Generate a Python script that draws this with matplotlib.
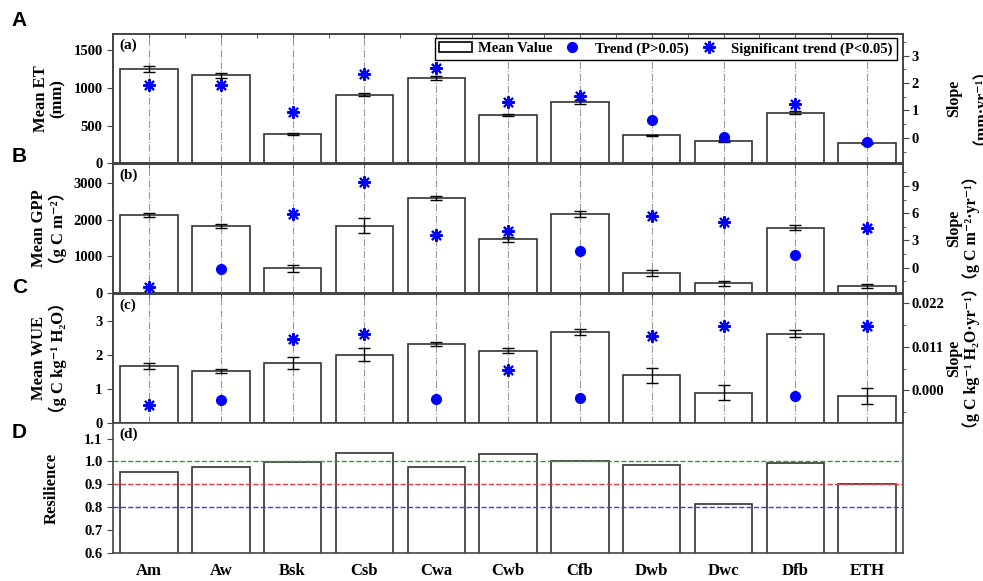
import matplotlib
matplotlib.use('Agg')
import matplotlib.pyplot as plt
from matplotlib.lines import Line2D
from matplotlib.patches import Patch
import numpy as np

plt.rcParams['font.family'] = ['Liberation Serif', 'Noto Sans CJK SC', 'DejaVu Serif']
plt.rcParams['font.weight'] = 'bold'

# 气候类型
cats = ['Am', 'Aw', 'Bsk', 'Csb', 'Cwa', 'Cwb', 'Cfb', 'Dwb', 'Dwc', 'Dfb', 'ETH']

# (a) ET
et_mean = [1250, 1165, 386, 912, 1130, 642, 815, 372, 296, 673, 266]
et_err = [40, 38, 12, 25, 30, 15, 25, 10, 10, 25, 8]
et_slope = [1.94, 1.94, 0.95, 2.31, 2.53, 1.31, 1.53, 0.65, 0.04, 1.22, -0.16]
et_sig = [1, 1, 1, 1, 1, 1, 1, 0, 0, 1, 0]

# (b) GPP
gpp_mean = [2116, 1827, 676, 1838, 2594, 1468, 2152, 540, 270, 1784, 206]
gpp_err = [55, 45, 90, 210, 55, 70, 70, 80, 60, 80, 50]
gpp_slope = [-2.09, -0.18, 5.86, 9.44, 3.59, 4.03, 1.83, 5.67, 5.05, 1.39, 4.39]
gpp_sig = [1, 0, 1, 1, 1, 1, 0, 1, 1, 0, 1]

# (c) WUE
wue_mean = [1.67, 1.54, 1.77, 2.01, 2.31, 2.12, 2.67, 1.40, 0.89, 2.62, 0.80]
wue_err = [0.09, 0.06, 0.18, 0.19, 0.06, 0.08, 0.09, 0.21, 0.22, 0.11, 0.23]
wue_slope = [-0.0036, -0.0023, 0.0131, 0.0142, -0.0022, 0.0051, -0.0018, 0.0139, 0.0164, -0.0014, 0.0164]
wue_sig = [1, 0, 1, 1, 0, 1, 0, 1, 1, 0, 1]

# (d) resilience
resilience = [0.956, 0.976, 0.998, 1.036, 0.978, 1.033, 1.001, 0.985, 0.813, 0.993, 0.90]

spine_c = '#444444'
star = (8, 2, 0)

fig = plt.figure(figsize=(9.83, 5.81), dpi=100)
x = np.arange(len(cats))
L, W, H = 0.115, 0.8037, 0.2233
bottoms = [0.7189, 0.4952, 0.2714, 0.0482]


def style_axis(ax):
    for s in ax.spines.values():
        s.set_color(spine_c)
        s.set_linewidth(1.2)


def side_label(txt, xpx, ypos, size=12):
    fig.text(xpx / 983.0, ypos, txt, rotation=90, ha='center', va='center',
             fontsize=size, fontweight='bold', linespacing=1.05)


def bar_panel(ax, mean, err, slope, sig, ylim, yticks, ylim2, yticks2, minor2, tag):
    ax.bar(x, mean, width=0.8, color='white', edgecolor='#333333', linewidth=1.2, zorder=2)
    ax.errorbar(x, mean, yerr=err, fmt='none', ecolor='black', elinewidth=1,
                capsize=4, capthick=1, zorder=4)
    for xi in x:
        ax.axvline(xi, color='#9a9a9a', lw=0.8, ls='-.', zorder=3)
    ax.set_xlim(-0.5, len(cats) - 0.5)
    ax.set_ylim(*ylim)
    ax.set_yticks(yticks)
    ax.set_xticks(x)
    ax.set_xticklabels([])
    ax.tick_params(axis='x', direction='in', top=True, length=3, color=spine_c)
    ax.tick_params(axis='y', direction='out', length=4, labelsize=10.5, color=spine_c)
    for t in ax.get_yticklabels():
        t.set_fontweight('bold')
    ax.text(0.008, 0.965, tag, transform=ax.transAxes, fontsize=11,
            fontweight='bold', va='top', ha='left')
    style_axis(ax)

    ax2 = ax.twinx()
    sig = np.array(sig, dtype=bool)
    slope = np.array(slope)
    ax2.plot(x[~sig], slope[~sig], 'o', color='blue', ms=7, ls='none', zorder=5)
    ax2.plot(x[sig], slope[sig], marker=star, color='blue', ms=9, mew=1.5,
             ls='none', zorder=5)
    ax2.set_ylim(*ylim2)
    ax2.set_yticks(yticks2)
    ax2.set_yticks(minor2, minor=True)
    ax2.tick_params(axis='y', which='major', direction='out', length=4, pad=2,
                    labelsize=10.5, color=spine_c)
    ax2.tick_params(axis='y', which='minor', direction='out', length=2.5, color=spine_c)
    for t in ax2.get_yticklabels():
        t.set_fontweight('bold')
    style_axis(ax2)
    return ax2


axa = fig.add_axes([L, bottoms[0], W, H])
axa2 = bar_panel(axa, et_mean, et_err, et_slope, et_sig, (0, 1720), [0, 500, 1000, 1500],
                 (-0.93, 3.8), [0, 1, 2, 3], np.arange(-0.5, 3.8, 0.5), '(a)')
axa.set_xticks(np.arange(-0.5, len(cats), 1.0), minor=True)
axa.tick_params(axis='x', which='minor', direction='in', top=True, bottom=False,
                length=3, color=spine_c)

axb = fig.add_axes([L, bottoms[1], W, H])
bar_panel(axb, gpp_mean, gpp_err, gpp_slope, gpp_sig, (0, 3520), [0, 1000, 2000, 3000],
          (-2.8, 11.45), [0, 3, 6, 9], np.arange(-1.5, 11.4, 1.5), '(b)')

axc = fig.add_axes([L, bottoms[2], W, H])
axc2 = bar_panel(axc, wue_mean, wue_err, wue_slope, wue_sig, (0, 3.79), [0, 1, 2, 3],
                 (-0.0083, 0.0245), [0.0, 0.011, 0.022], np.arange(-0.0055, 0.0245, 0.0055), '(c)')
axc2.set_yticklabels(['0.000', '0.011', '0.022'], fontweight='bold')

# (d) resilience
axd = fig.add_axes([L, bottoms[3], W, H])
axd.bar(x, resilience, width=0.8, color='white', edgecolor='#333333', linewidth=1.2, zorder=2)
axd.axhline(1.0, color='#2ca02c', ls='--', lw=1, zorder=3)
axd.axhline(0.9, color='#e8383d', ls='--', lw=1, zorder=3)
axd.axhline(0.8, color='#3a3aff', ls='--', lw=1, zorder=3)
axd.set_xlim(-0.5, len(cats) - 0.5)
axd.set_ylim(0.6, 1.167)
axd.set_yticks([0.6, 0.7, 0.8, 0.9, 1.0, 1.1])
axd.set_yticklabels(['0.6', '0.7', '0.8', '0.9', '1.0', '1.1'], fontweight='bold')
axd.set_xticks(x)
axd.set_xticklabels(cats, fontsize=12, fontweight='bold')
axd.tick_params(axis='x', direction='in', length=3, pad=7, color=spine_c)
axd.tick_params(axis='y', direction='out', length=4, labelsize=10.5, color=spine_c)
axd.text(0.008, 0.965, '(d)', transform=axd.transAxes, fontsize=11,
         fontweight='bold', va='top', ha='left')
style_axis(axd)

# 坐标轴标题
mids = [b + H / 2 for b in bottoms]
side_label('Mean ET\n(mm)', 49, mids[0])
side_label('Mean GPP\n（g C m⁻²）', 49, mids[1])
side_label('Mean WUE\n（g C kg⁻¹ H₂O）', 49, mids[2])
side_label('Resilience', 52, mids[3])
side_label('Slope\n（mm·yr⁻¹）', 963, mids[0], 11.5)
side_label('Slope\n（g C m⁻²·yr⁻¹）', 963, mids[1], 11.5)
side_label('Slope\n（g C kg⁻¹ H₂O·yr⁻¹）', 963, mids[2], 11.5)

# legend
handles = [Patch(facecolor='white', edgecolor='black', linewidth=1.2),
           Line2D([], [], marker='o', color='blue', ls='none', ms=7),
           Line2D([], [], marker=star, color='blue', ls='none', ms=9, mew=1.5)]
labels = ['Mean Value', 'Trend (P>0.05)', 'Significant trend (P<0.05)']
leg = axa2.legend(handles, labels, ncol=3, loc='upper right', bbox_to_anchor=(0.996, 0.99),
                  frameon=True, fancybox=False, edgecolor='black', framealpha=1,
                  prop={'weight': 'bold', 'size': 10.5}, handlelength=2.3,
                  columnspacing=0.2, handletextpad=0.4, borderpad=0.3, borderaxespad=0.2)
leg.get_frame().set_linewidth(1.0)

# 大写字母标记
for lab, yy in zip(['A', 'B', 'C', 'D'], [0.965, 0.73, 0.505, 0.255]):
    fig.text(0.012, yy, lab, fontsize=15, fontweight='bold', family='Liberation Sans',
             va='center', ha='left')

fig.savefig('out.png', dpi=100)
